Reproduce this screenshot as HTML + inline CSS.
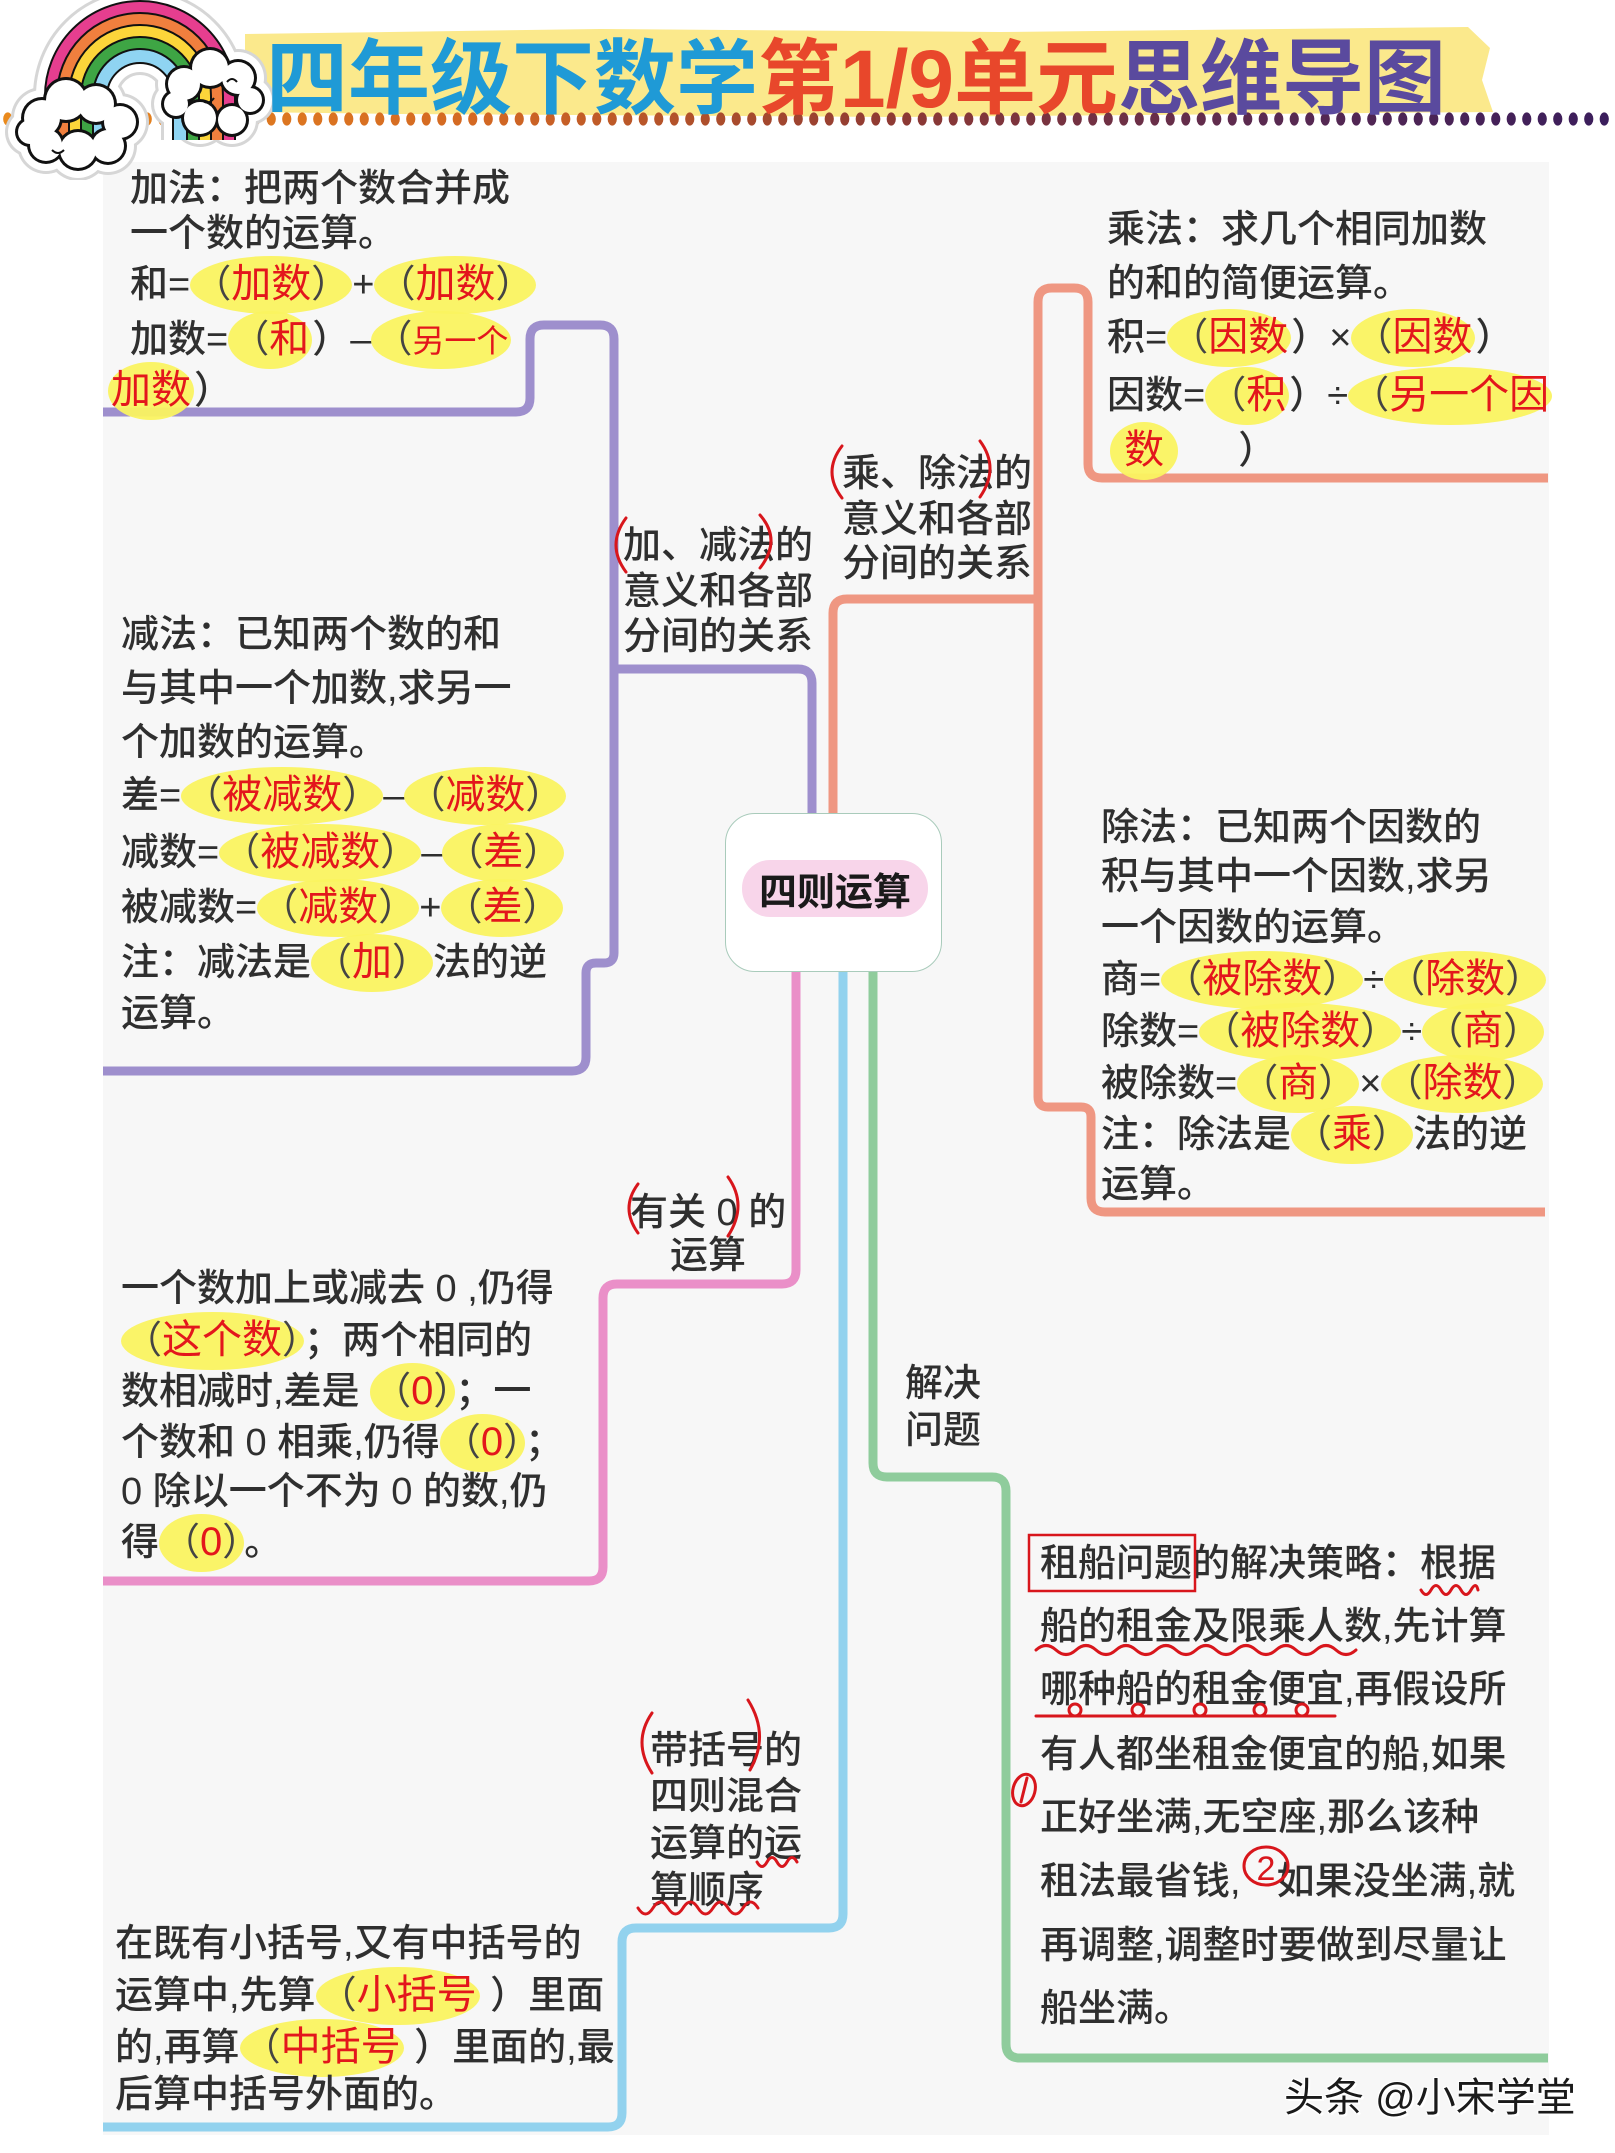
<!DOCTYPE html>
<html><head><meta charset="utf-8">
<style>
html,body{margin:0;padding:0;}
body{width:1615px;height:2153px;position:relative;overflow:hidden;background:#fff;font-family:"Liberation Sans","Noto Sans CJK SC",sans-serif;}
.panel{position:absolute;left:103px;top:162px;width:1446px;height:1973px;background:#f7f7f7;}
.abs{position:absolute;left:0;top:0;}
.t{position:absolute;font-size:38px;line-height:50px;height:50px;color:#2f2f2f;white-space:nowrap;font-weight:500;}
.h{background:rgba(250,243,96,0.95);border-radius:50%;padding:6px 3px 8px;color:#e3161c;font-size:40px;font-weight:400;}
.h i{font-style:normal;color:#444;font-size:38px;}
.sp{display:inline-block;}
</style></head>
<body>
<div class="panel"></div>

<!-- header band + dots -->
<svg class="abs" width="1615" height="170">
  <defs>
    <linearGradient id="dg" x1="0" y1="0" x2="1615" y2="0" gradientUnits="userSpaceOnUse">
      <stop offset="0" stop-color="#ea8a1c"/>
      <stop offset="0.3" stop-color="#d36823"/>
      <stop offset="0.55" stop-color="#8f3a33"/>
      <stop offset="0.78" stop-color="#5a2a50"/>
      <stop offset="1" stop-color="#3a1d5c"/>
    </linearGradient>
    <pattern id="dp" x="0" y="109" width="15.5" height="20" patternUnits="userSpaceOnUse">
      <ellipse cx="7.75" cy="10" rx="4.6" ry="6.6" fill="#fff"/>
    </pattern>
    <mask id="dm"><rect x="0" y="109" width="1615" height="20" fill="url(#dp)"/></mask>
  </defs>
  <polygon points="245,34 600,29 1000,32 1468,27 1490,48 1482,80 1493,112 900,117 400,114 245,112" fill="#fbe98c"/>
  <rect x="0" y="109" width="1615" height="20" fill="url(#dg)" mask="url(#dm)"/>
</svg>

<!-- rainbow sticker -->
<svg class="abs" width="300" height="180">
  <g fill="#d6d6d6">
    <path d="M76,140 V96 A64,64 0 0 1 204,96 V140" fill="none" stroke="#d6d6d6" stroke-width="86"/>
    <circle cx="42" cy="118" r="31"/><circle cx="66" cy="100" r="33"/><circle cx="96" cy="104" r="31"/>
    <circle cx="120" cy="122" r="29"/><circle cx="108" cy="146" r="29"/><circle cx="78" cy="150" r="31"/>
    <circle cx="46" cy="145" r="29"/><circle cx="30" cy="132" r="25"/>
    <circle cx="184" cy="84" r="29"/><circle cx="210" cy="68" r="31"/><circle cx="238" cy="78" r="29"/>
    <circle cx="250" cy="100" r="25"/><circle cx="232" cy="120" r="27"/><circle cx="200" cy="118" r="29"/>
    <circle cx="176" cy="104" r="25"/>
  </g>
  <g fill="#fff">
    <path d="M76,140 V96 A64,64 0 0 1 204,96 V140" fill="none" stroke="#fff" stroke-width="80"/>
    <circle cx="42" cy="118" r="28"/><circle cx="66" cy="100" r="30"/><circle cx="96" cy="104" r="28"/>
    <circle cx="120" cy="122" r="26"/><circle cx="108" cy="146" r="26"/><circle cx="78" cy="150" r="28"/>
    <circle cx="46" cy="145" r="26"/><circle cx="30" cy="132" r="22"/>
    <circle cx="184" cy="84" r="26"/><circle cx="210" cy="68" r="28"/><circle cx="238" cy="78" r="26"/>
    <circle cx="250" cy="100" r="22"/><circle cx="232" cy="120" r="24"/><circle cx="200" cy="118" r="26"/>
    <circle cx="176" cy="104" r="22"/>
  </g>
  <g fill="none">
    <path d="M52,140 V96 A88,88 0 0 1 228,96 V140" stroke="#111" stroke-width="16"/>
    <path d="M52,140 V96 A88,88 0 0 1 228,96 V140" stroke="#e63e8f" stroke-width="12"/>
    <path d="M64,140 V96 A76,76 0 0 1 216,96 V140" stroke="#111" stroke-width="16"/>
    <path d="M64,140 V96 A76,76 0 0 1 216,96 V140" stroke="#f07f3e" stroke-width="12"/>
    <path d="M76,140 V96 A64,64 0 0 1 204,96 V140" stroke="#111" stroke-width="16"/>
    <path d="M76,140 V96 A64,64 0 0 1 204,96 V140" stroke="#fcd53a" stroke-width="12"/>
    <path d="M88,140 V96 A52,52 0 0 1 192,96 V140" stroke="#111" stroke-width="16"/>
    <path d="M88,140 V96 A52,52 0 0 1 192,96 V140" stroke="#3ea544" stroke-width="12"/>
    <path d="M100,140 V96 A40,40 0 0 1 180,96 V140" stroke="#111" stroke-width="16"/>
    <path d="M100,140 V96 A40,40 0 0 1 180,96 V140" stroke="#8fd4f2" stroke-width="12"/>
  </g>
  <g fill="#111">
    <circle cx="42" cy="118" r="21"/><circle cx="66" cy="100" r="23"/><circle cx="96" cy="104" r="21"/>
    <circle cx="120" cy="122" r="19"/><circle cx="108" cy="146" r="19"/><circle cx="78" cy="150" r="21"/>
    <circle cx="46" cy="145" r="19"/><circle cx="30" cy="132" r="15"/>
    <circle cx="184" cy="84" r="19"/><circle cx="210" cy="68" r="21"/><circle cx="238" cy="78" r="19"/>
    <circle cx="250" cy="100" r="15"/><circle cx="232" cy="120" r="17"/><circle cx="200" cy="118" r="19"/>
    <circle cx="176" cy="104" r="15"/>
  </g>
  <g fill="#fff">
    <circle cx="42" cy="118" r="18"/><circle cx="66" cy="100" r="20"/><circle cx="96" cy="104" r="18"/>
    <circle cx="120" cy="122" r="16"/><circle cx="108" cy="146" r="16"/><circle cx="78" cy="150" r="18"/>
    <circle cx="46" cy="145" r="16"/><circle cx="30" cy="132" r="12"/>
    <circle cx="184" cy="84" r="16"/><circle cx="210" cy="68" r="18"/><circle cx="238" cy="78" r="16"/>
    <circle cx="250" cy="100" r="12"/><circle cx="232" cy="120" r="14"/><circle cx="200" cy="118" r="16"/>
    <circle cx="176" cy="104" r="12"/>
  </g>
  <g fill="none" stroke="#111" stroke-width="2">
    <path d="M52,150 q6,6 12,0"/><path d="M202,100 q6,6 12,-2"/><path d="M227,82 q5,-6 10,0"/>
  </g>
</svg>

<div style="position:absolute;left:266px;top:35px;font-size:82px;line-height:90px;font-weight:bold;white-space:nowrap;"><span style="color:#1f9ad6">四年级下数学</span><span style="color:#e8472b">第1/9单元</span><span style="color:#5a4a9e">思维导图</span></div>

<!-- connector lines -->
<svg class="abs" width="1615" height="2153">
  <g fill="none" stroke-width="9">
    <path stroke="#9e8fcd" d="M103,412 H516 Q530,412 530,398 V339 Q530,325 544,325 H600 Q614,325 614,339 V953 Q614,963 604,963 H596 Q586,963 586,973 V1057 Q586,1071 572,1071 H103"/>
    <path stroke="#9e8fcd" d="M614,669 H798 Q812,669 812,683 V820"/>
    <path stroke="#ef9782" d="M1548,478 H1102 Q1088,478 1088,464 V302 Q1088,288 1074,288 H1052 Q1038,288 1038,302 V1097 Q1038,1107 1048,1107 H1081 Q1091,1107 1091,1117 V1198 Q1091,1212 1105,1212 H1545"/>
    <path stroke="#ef9782" d="M833,820 V613 Q833,599 847,599 H1038"/>
    <path stroke="#ea8fc8" d="M796,965 V1270 Q796,1284 782,1284 H617 Q603,1284 603,1298 V1567 Q603,1581 589,1581 H103"/>
    <path stroke="#92d2ee" d="M843,965 V1914 Q843,1928 829,1928 H636 Q622,1928 622,1942 V2113 Q622,2127 608,2127 H103"/>
    <path stroke="#8fcc9c" d="M873,965 V1463 Q873,1477 887,1477 H992 Q1006,1477 1006,1491 V2044 Q1006,2058 1020,2058 H1548"/>
  </g>
</svg>

<!-- center node -->
<div style="position:absolute;left:725px;top:813px;width:217px;height:159px;border:1.5px solid #a9cbbb;border-radius:30px;background:#fff;box-sizing:border-box;"></div>
<div style="position:absolute;left:742px;top:860px;width:186px;height:57px;border-radius:28px;background:#f8d5ea;display:flex;align-items:center;justify-content:center;font-size:38px;font-weight:bold;color:#1a1a1a;">四则运算</div>

<!-- Block A -->
<div class="t" style="left:130px;top:164px">加法：把两个数合并成</div>
<div class="t" style="left:130px;top:209px">一个数的运算。</div>
<div class="t" style="left:130px;top:259px">和=<span class="h"><i>（</i>加数<i>）</i></span>+<span class="h"><i>（</i>加数<i>）</i></span></div>
<div class="t" style="left:130px;top:314px">加数=<span class="h"><i>（</i>和</span>）–<span class="h"><i>（</i><span style="font-size:32px">另一个</span></span></div>
<div class="t" style="left:108px;top:365px"><span class="h">加数</span>）</div>

<!-- Block B -->
<div class="t" style="left:121px;top:610px">减法：已知两个数的和</div>
<div class="t" style="left:121px;top:664px">与其中一个加数,求另一</div>
<div class="t" style="left:121px;top:718px">个加数的运算。</div>
<div class="t" style="left:121px;top:770px">差=<span class="h"><i>（</i>被减数<i>）</i></span>–<span class="h"><i>（</i>减数<i>）</i></span></div>
<div class="t" style="left:121px;top:827px">减数=<span class="h"><i>（</i>被减数<i>）</i></span>–<span class="h"><i>（</i>差<i>）</i></span></div>
<div class="t" style="left:121px;top:882px">被减数=<span class="h"><i>（</i>减数<i>）</i></span>+<span class="h"><i>（</i>差<i>）</i></span></div>
<div class="t" style="left:121px;top:937px">注：减法是<span class="h"><i>（</i>加<i>）</i></span>法的逆</div>
<div class="t" style="left:121px;top:989px">运算。</div>

<!-- Block C -->
<div class="t" style="left:1107px;top:205px">乘法：求几个相同加数</div>
<div class="t" style="left:1107px;top:259px">的和的简便运算。</div>
<div class="t" style="left:1107px;top:312px">积=<span class="h"><i>（</i>因数</span>）×<span class="h"><i>（</i>因数</span>）</div>
<div class="t" style="left:1107px;top:370px">因数=<span class="h"><i>（</i>积</span>）÷<span class="h"><i>（</i>另一个因</span></div>
<div class="t" style="left:1110px;top:425px"><span class="h">&nbsp;数&nbsp;</span><span class="sp" style="width:60px"></span>）</div>

<!-- Block D -->
<div class="t" style="left:1101px;top:803px">除法：已知两个因数的</div>
<div class="t" style="left:1101px;top:852px">积与其中一个因数,求另</div>
<div class="t" style="left:1101px;top:903px">一个因数的运算。</div>
<div class="t" style="left:1101px;top:954px">商=<span class="h"><i>（</i>被除数<i>）</i></span>÷<span class="h"><i>（</i>除数<i>）</i></span></div>
<div class="t" style="left:1101px;top:1006px">除数=<span class="h"><i>（</i>被除数<i>）</i></span>÷<span class="h"><i>（</i>商<i>）</i></span></div>
<div class="t" style="left:1101px;top:1058px">被除数=<span class="h"><i>（</i>商<i>）</i></span>×<span class="h"><i>（</i>除数<i>）</i></span></div>
<div class="t" style="left:1101px;top:1109px">注：除法是<span class="h"><i>（</i>乘<i>）</i></span>法的逆</div>
<div class="t" style="left:1101px;top:1160px">运算。</div>

<!-- Block E -->
<div class="t" style="left:121px;top:1264px">一个数加上或减去 0 ,仍得</div>
<div class="t" style="left:121px;top:1315px"><span class="h"><i>（</i>这个数<i>）</i></span>；两个相同的</div>
<div class="t" style="left:121px;top:1366px">数相减时,差是 <span class="h"><i>（</i>0<i>）</i></span>；一</div>
<div class="t" style="left:121px;top:1417px">个数和 0 相乘,仍得<span class="h"><i>（</i>0<i>）</i></span>；</div>
<div class="t" style="left:121px;top:1467px">0 除以一个不为 0 的数,仍</div>
<div class="t" style="left:121px;top:1517px">得<span class="h"><i>（</i>0<i>）</i></span>。</div>

<!-- Block F -->
<div class="t" style="left:115px;top:1919px">在既有小括号,又有中括号的</div>
<div class="t" style="left:115px;top:1970px">运算中,先算<span class="h"><i>（</i>小括号</span>&nbsp;）里面</div>
<div class="t" style="left:115px;top:2022px">的,再算<span class="h"><i>（</i>中括号</span>&nbsp;）里面的,最</div>
<div class="t" style="left:115px;top:2070px">后算中括号外面的。</div>

<!-- Block G -->
<div class="t" style="left:1040px;top:1539px">租船问题的解决策略：根据</div>
<div class="t" style="left:1040px;top:1602px">船的租金及限乘人数,先计算</div>
<div class="t" style="left:1040px;top:1665px">哪种船的租金便宜,再假设所</div>
<div class="t" style="left:1040px;top:1730px">有人都坐租金便宜的船,如果</div>
<div class="t" style="left:1040px;top:1793px">正好坐满,无空座,那么该种</div>
<div class="t" style="left:1040px;top:1857px">租法最省钱,<span class="sp" style="width:36px"></span>如果没坐满,就</div>
<div class="t" style="left:1040px;top:1921px">再调整,调整时要做到尽量让</div>
<div class="t" style="left:1040px;top:1984px">船坐满。</div>

<!-- branch labels -->
<div class="t" style="left:623px;top:521px">加、减法的</div>
<div class="t" style="left:623px;top:567px">意义和各部</div>
<div class="t" style="left:623px;top:612px">分间的关系</div>

<div class="t" style="left:842px;top:449px">乘、除法的</div>
<div class="t" style="left:842px;top:495px">意义和各部</div>
<div class="t" style="left:842px;top:539px">分间的关系</div>

<div class="t" style="left:630px;top:1188px">有关 0 的</div>
<div class="t" style="left:670px;top:1231px">运算</div>

<div class="t" style="left:650px;top:1726px">带括号的</div>
<div class="t" style="left:650px;top:1772px">四则混合</div>
<div class="t" style="left:650px;top:1819px">运算的运</div>
<div class="t" style="left:650px;top:1866px">算顺序</div>

<div class="t" style="left:905px;top:1359px">解决</div>
<div class="t" style="left:905px;top:1406px">问题</div>

<!-- red pen annotations -->
<svg class="abs" width="1615" height="2153">
  <g fill="none" stroke="#d8161c" stroke-width="3" stroke-linecap="round">
    <path d="M626,518 Q606,545 626,572"/>
    <path d="M760,515 Q782,540 760,568"/>
    <path d="M842,446 Q822,472 842,498"/>
    <path d="M980,441 Q1000,468 980,497"/>
    <path d="M638,1184 Q620,1208 638,1233"/>
    <path d="M728,1177 Q748,1205 728,1236"/>
    <path d="M652,1713 Q632,1742 652,1773"/>
    <path d="M748,1700 Q770,1735 750,1770"/>
    <path d="M757,1862 q5,9 10,0 t10,0 t10,0 t10,0"/>
    <path d="M638,1908 q7.5,12 15,0 t15,0 t15,0 t15,0 t15,0 t15,0 t15,0 t15,0"/>
    <rect x="1029" y="1535" width="166" height="56" stroke-width="2.5"/>
    <path d="M1421,1590 q5,9 10,0 t10,0 t10,0 t10,0 t10,0 t7,0"/>
    <path d="M1036,1650 q10,-9 20,0 t20,0 t20,0 t20,0 t20,0 t20,0 t20,0 t20,0 t20,0 t20,0 t20,0 t20,0 t20,0 t20,0 t20,0 t20,0"/>
    <path d="M1036,1716 H1335"/>
    <circle cx="1075" cy="1710" r="6"/><circle cx="1138" cy="1710" r="6"/><circle cx="1200" cy="1710" r="6"/>
    <circle cx="1260" cy="1710" r="6"/><circle cx="1302" cy="1710" r="6"/>
    <ellipse cx="1024" cy="1790" rx="11" ry="16" transform="rotate(15 1024 1790)"/>
    <path d="M1027,1778 L1021,1802"/>
    <ellipse cx="1266" cy="1866" rx="22" ry="19"/>
  </g>
  <text x="1266" y="1880" text-anchor="middle" font-size="34" fill="#d8161c" font-family="Liberation Sans, sans-serif">2</text>
</svg>

<!-- watermark -->
<div style="position:absolute;left:1284px;top:2073px;font-size:40px;line-height:50px;color:#1a1a1a;white-space:nowrap;text-shadow:2px 2px 0 #fff,-1px -1px 0 #fff,1px -1px 0 #fff,-1px 1px 0 #fff;">头条 @小宋学堂</div>

</body></html>
